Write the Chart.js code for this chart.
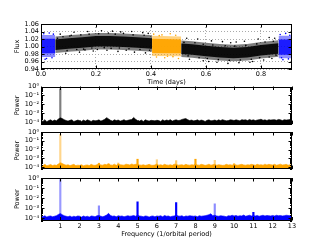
<!DOCTYPE html>
<html>
<head>
<meta charset="utf-8">
<script src="https://cdn.jsdelivr.net/npm/chart.js@4"></script>
<style>
body { margin: 0; background: #fff; }
#wrap { position: relative; width: 325px; height: 245px; }
canvas { position: absolute; left: 0; }
</style>
</head>
<body>
<div id="wrap">
<canvas id="lightCurve" width="325" height="88" style="top:0px"></canvas>
<canvas id="powerK" width="325" height="50" style="top:80px"></canvas>
<canvas id="powerO" width="325" height="50" style="top:125px"></canvas>
<canvas id="powerB" width="325" height="75" style="top:170px"></canvas>
</div>
<script>
// ---- light curve (flux vs time) ----
const timeTicks = [0, 0.2, 0.4, 0.6, 0.8];
const fluxTicks = [0.94, 0.96, 0.98, 1.0, 1.02, 1.04, 1.06];

const timeK1 = [0.052, 0.1, 0.15, 0.2, 0.25, 0.3, 0.35, 0.404];
const innerUpK1 = [1.019, 1.022, 1.025, 1.028, 1.028, 1.027, 1.025, 1.022];
const innerLoK1 = [0.991, 0.994, 0.997, 1.000, 1.000, 0.999, 0.997, 0.994];
const outerUpK1 = [1.027, 1.030, 1.033, 1.036, 1.036, 1.035, 1.033, 1.030];
const outerLoK1 = [0.983, 0.986, 0.989, 0.992, 0.992, 0.991, 0.989, 0.986];

const timeK2 = [0.51, 0.55, 0.6, 0.65, 0.7, 0.75, 0.8, 0.864];
const innerUpK2 = [1.008, 1.006, 1.002, 0.999, 0.997, 0.999, 1.004, 1.009];
const innerLoK2 = [0.980, 0.978, 0.974, 0.971, 0.969, 0.971, 0.976, 0.981];
const outerUpK2 = [1.016, 1.014, 1.010, 1.007, 1.005, 1.007, 1.012, 1.017];
const outerLoK2 = [0.972, 0.970, 0.966, 0.963, 0.961, 0.963, 0.968, 0.973];

const timeO = [0.404, 0.51];
const innerUpO = [1.021, 1.019];
const innerLoO = [0.983, 0.982];
const outerUpO = [1.029, 1.027];
const outerLoO = [0.975, 0.974];

const timeBA = [0, 0.052];
const innerUpBA = [1.021, 1.021];
const innerLoBA = [0.982, 0.982];
const outerUpBA = [1.031, 1.031];
const outerLoBA = [0.972, 0.972];

const timeBB = [0.864, 0.913];
const innerUpBB = [1.019, 1.019];
const innerLoBB = [0.978, 0.978];
const outerUpBB = [1.029, 1.029];
const outerLoBB = [0.969, 0.969];

// stray points around the dense band
const strayTimeK = [0.07, 0.09, 0.11, 0.12, 0.14, 0.16, 0.17, 0.19, 0.205, 0.22, 0.24, 0.26, 0.28, 0.29, 0.31, 0.33, 0.34, 0.37, 0.38, 0.39,
  0.53, 0.54, 0.57, 0.59, 0.61, 0.62, 0.64, 0.66, 0.68, 0.69, 0.71, 0.72, 0.74, 0.76, 0.77, 0.79, 0.81, 0.83, 0.84, 0.85,
  0.06, 0.08, 0.095, 0.105, 0.13, 0.145, 0.155, 0.175, 0.185, 0.21, 0.23, 0.245, 0.255, 0.27, 0.285, 0.3, 0.32, 0.335, 0.36, 0.375, 0.395,
  0.52, 0.535, 0.56, 0.575, 0.59, 0.605, 0.625, 0.645, 0.67, 0.685, 0.705, 0.725, 0.745, 0.765, 0.785, 0.795, 0.815, 0.83, 0.845, 0.855];
const strayFluxK = [1.033, 0.982, 1.030, 1.038, 0.985, 0.991, 1.040, 0.988, 0.992, 1.042, 0.990, 1.041, 0.987, 1.039, 0.990, 1.040, 0.985, 1.037, 0.983, 1.035,
  1.022, 0.966, 1.020, 0.962, 0.960, 1.015, 0.958, 1.013, 0.955, 1.010, 1.012, 0.957, 1.014, 0.958, 0.960, 1.020, 0.964, 1.024, 0.968, 1.022,
  1.022, 1.026, 0.989, 1.028, 0.992, 1.031, 0.993, 1.033, 0.996, 1.034, 0.997, 1.036, 0.995, 1.033, 0.996, 1.035, 0.994, 1.031, 0.992, 1.030, 0.990,
  1.011, 0.975, 1.010, 0.970, 1.006, 0.968, 1.004, 0.965, 1.002, 0.963, 1.001, 0.964, 1.003, 0.966, 1.007, 0.970, 1.012, 0.972, 1.014, 0.977];
const strayTimeO = [0.41, 0.42, 0.43, 0.44, 0.45, 0.46, 0.47, 0.48, 0.49, 0.50];
const strayFluxO = [1.033, 0.972, 1.029, 1.031, 0.970, 0.974, 1.034, 0.973, 1.030, 0.968];
const strayTimeB = [0.01, 0.015, 0.02, 0.03, 0.04, 0.045, 0.87, 0.875, 0.88, 0.89, 0.90, 0.905];
const strayFluxB = [1.034, 0.966, 0.968, 1.036, 0.970, 1.033, 1.032, 0.970, 0.965, 1.035, 0.967, 1.030];

// ---- periodograms ----
const freqTicks = [0, 1, 2, 3, 4, 5, 6, 7, 8, 9, 10, 11, 12, 13];
const freqLabels = ['', '1', '2', '3', '4', '5', '6', '7', '8', '9', '10', '11', '12', '13'];
const powerTicks = [1e-4, 1e-3, 1e-2, 1e-1, 1];
const powerLabels = ['10\u207B\u2074', '10\u207B\u00B3', '10\u207B\u00B2', '10\u207B\u00B9', '10\u2070'];

const freqGrid = [0, 0.1, 0.2, 0.3, 0.4, 0.5, 0.6, 0.7, 0.8, 0.9,
  1, 1.1, 1.2, 1.3, 1.4, 1.5, 1.6, 1.7, 1.8, 1.9,
  2, 2.1, 2.2, 2.3, 2.4, 2.5, 2.6, 2.7, 2.8, 2.9,
  3, 3.1, 3.2, 3.3, 3.4, 3.5, 3.6, 3.7, 3.8, 3.9,
  4, 4.1, 4.2, 4.3, 4.4, 4.5, 4.6, 4.7, 4.8, 4.9,
  5, 5.1, 5.2, 5.3, 5.4, 5.5, 5.6, 5.7, 5.8, 5.9,
  6, 6.1, 6.2, 6.3, 6.4, 6.5, 6.6, 6.7, 6.8, 6.9,
  7, 7.1, 7.2, 7.3, 7.4, 7.5, 7.6, 7.7, 7.8, 7.9,
  8, 8.1, 8.2, 8.3, 8.4, 8.5, 8.6, 8.7, 8.8, 8.9,
  9, 9.1, 9.2, 9.3, 9.4, 9.5, 9.6, 9.7, 9.8, 9.9,
  10, 10.1, 10.2, 10.3, 10.4, 10.5, 10.6, 10.7, 10.8, 10.9,
  11, 11.1, 11.2, 11.3, 11.4, 11.5, 11.6, 11.7, 11.8, 11.9,
  12, 12.1, 12.2, 12.3, 12.4, 12.5, 12.6, 12.7, 12.8, 12.9,
  13];

const NOISE_UNIT = 1e-4; // noise floors below are in units of 1e-4
const noiseK = [1.6, 1.2, 1.9, 1.1, 1.5, 1.8, 1.3, 1.7, 1.4, 2.2,
  3.0, 2.5, 1.9, 1.5, 1.3, 1.6, 1.8, 1.2, 1.4, 1.7,
  1.5, 1.2, 1.7, 1.3, 1.8, 1.5, 1.2, 1.6, 1.4, 1.5,
  1.8, 1.3, 1.6, 2.1, 3.2, 2.3, 1.6, 1.3, 1.8, 1.5,
  1.7, 1.3, 1.5, 1.9, 1.4, 1.6, 1.8, 2.0, 3.4, 2.1,
  1.5, 1.3, 1.7, 1.2, 1.8, 1.5, 1.3, 1.6, 1.5, 1.4,
  1.6, 1.5, 1.2, 1.8, 1.4, 1.7, 1.5, 1.9, 1.3, 1.6,
  1.8, 1.5, 1.6, 2.0, 2.3, 2.5, 1.9, 1.5, 1.7, 1.4,
  1.5, 1.8, 1.4, 1.7, 1.5, 1.2, 1.6, 1.8, 1.4, 1.5,
  1.7, 1.4, 1.8, 1.5, 1.9, 1.6, 1.4, 1.5, 1.8, 1.7,
  1.5, 1.8, 1.6, 1.4, 1.9, 1.7, 1.8, 1.5, 2.0, 1.6,
  1.8, 1.5, 1.7, 1.9, 2.1, 1.6, 1.8, 1.5, 1.9, 1.7,
  1.8, 1.9, 1.6, 2.0, 1.8, 1.5, 1.9, 1.7, 1.8, 2.0,
  1.6];
const noiseO = [1.8, 1.5, 2.1, 1.4, 1.7, 2.0, 1.5, 1.8, 1.6, 2.3,
  3.2, 2.6, 2.0, 1.7, 1.9, 1.5, 1.8, 2.1, 1.5, 1.7,
  1.6, 1.9, 1.4, 1.7, 1.8, 1.5, 2.1, 1.7, 1.6, 1.9,
  2.3, 1.8, 1.7, 2.1, 1.9, 2.4, 1.8, 1.7, 2.2, 1.6,
  2.4, 1.9, 1.8, 1.7, 2.2, 2.0, 1.8, 2.3, 1.9, 2.1,
  2.2, 1.8, 1.7, 1.9, 1.6, 1.8, 2.1, 1.7, 1.6, 1.8,
  2.3, 1.7, 1.9, 1.6, 2.1, 1.8, 1.7, 1.9, 1.6, 2.2,
  2.1, 1.7, 1.8, 1.9, 1.6, 2.1, 1.8, 1.7, 1.9, 1.8,
  2.4, 1.8, 1.7, 2.1, 1.9, 1.6, 1.8, 2.2, 1.7, 1.9,
  2.1, 1.7, 1.9, 1.8, 1.6, 1.7, 2.1, 1.8, 1.9, 1.7,
  2.2, 1.8, 1.7, 1.9, 2.1, 1.8, 1.7, 1.9, 1.8, 2.1,
  1.9, 1.7, 2.1, 1.8, 1.9, 1.7, 2.2, 1.8, 2.1, 1.9,
  1.8, 2.1, 1.7, 1.9, 2.2, 1.8, 1.9, 2.1, 1.7, 1.9,
  1.8];
const noiseB = [1.7, 1.4, 1.8, 1.3, 1.6, 1.7, 1.4, 1.6, 1.8, 2.4,
  2.9, 2.3, 1.8, 1.6, 1.4, 1.7, 1.3, 1.6, 1.4, 1.7,
  1.6, 1.3, 1.7, 1.4, 1.6, 1.3, 1.7, 1.6, 1.4, 1.8,
  1.9, 1.6, 1.4, 1.7, 2.1, 3.1, 1.9, 1.6, 1.7, 1.4,
  1.8, 1.6, 1.7, 1.4, 1.6, 1.8, 1.6, 1.7, 1.9, 1.6,
  2.0, 1.7, 1.6, 1.4, 1.7, 1.6, 1.3, 1.6, 1.7, 1.4,
  1.7, 1.6, 1.8, 1.4, 1.9, 1.6, 1.7, 1.4, 1.6, 1.7,
  2.1, 1.7, 1.6, 1.8, 1.4, 1.7, 1.6, 1.8, 1.7, 1.6,
  1.7, 1.4, 1.8, 1.6, 1.7, 1.8, 2.0, 2.3, 2.8, 1.8,
  2.0, 1.7, 1.6, 1.8, 1.7, 1.6, 1.4, 1.8, 1.7, 2.0,
  1.7, 1.9, 1.6, 1.8, 1.7, 2.1, 1.6, 1.8, 2.0, 1.7,
  1.8, 1.7, 1.9, 1.6, 1.8, 2.0, 1.7, 1.9, 1.8, 1.7,
  1.9, 1.7, 2.0, 1.8, 1.9, 1.7, 1.8, 2.0, 1.9, 1.8,
  1.7];

const peakFreqK = [1.0];
const peakPowerK = [0.55];
const peakFreqO = [1.0, 3.0, 3.5, 4.0, 5.0, 6.0, 7.0, 8.0, 9.0, 10.0];
const peakPowerO = [0.52, 2.8e-4, 2.3e-4, 3.0e-4, 8e-4, 7e-4, 5.5e-4, 8e-4, 6e-4, 2.5e-4];
const peakFreqB = [1.0, 3.0, 5.0, 7.0, 9.0, 11.0];
const peakPowerB = [0.7, 1.7e-3, 4.2e-3, 3.6e-3, 2.7e-3, 3.8e-4];

// styling
const BLACK = [0, 0, 0], ORANGE = [255, 165, 0], BLUE = [0, 0, 255];
const peakAlphaK = [0.5];
const peakAlphaO = [0.45, 0.9, 0.9, 0.5, 1, 0.5, 0.6, 1, 0.5, 0.7];
const peakAlphaB = [0.4, 0.45, 1, 1, 0.45, 1];
const rgba = (c, a) => 'rgba(' + c[0] + ',' + c[1] + ',' + c[2] + ',' + a + ')';

Chart.defaults.font.family = "'DejaVu Sans', sans-serif";
Chart.defaults.font.size = 6.5;
Chart.defaults.color = '#000';

// axes frame plus inward tick marks, like the old matplotlib style
const frameTicks = {
    id: 'frameTicks',
    afterDatasetsDraw(chart) {
        const { ctx, chartArea: a, scales: { x, y } } = chart;
        ctx.save();
        ctx.strokeStyle = '#000';
        ctx.lineWidth = 1;
        ctx.beginPath();
        x.ticks.forEach(t => {
            const px = Math.round(x.getPixelForValue(t.value)) + 0.5;
            ctx.moveTo(px, a.bottom); ctx.lineTo(px, a.bottom - 3.5);
            ctx.moveTo(px, a.top); ctx.lineTo(px, a.top + 3.5);
        });
        y.ticks.forEach(t => {
            const py = Math.round(y.getPixelForValue(t.value)) + 0.5;
            ctx.moveTo(a.left, py); ctx.lineTo(a.left + 3.5, py);
            ctx.moveTo(a.right, py); ctx.lineTo(a.right - 3.5, py);
        });
        if (y.type === 'logarithmic') {
            for (let e = -5; e < 0; e++) {
                for (let m = 2; m < 10; m++) {
                    const v = m * Math.pow(10, e);
                    if (v <= y.min || v >= y.max) continue;
                    const py = Math.round(y.getPixelForValue(v)) + 0.5;
                    ctx.moveTo(a.left, py); ctx.lineTo(a.left + 2, py);
                    ctx.moveTo(a.right, py); ctx.lineTo(a.right - 2, py);
                }
            }
        }
        ctx.stroke();
        ctx.strokeRect(Math.round(a.left) + 0.5, Math.round(a.top) + 0.5,
            Math.round(a.width) - 1, Math.round(a.height) - 1);
        ctx.restore();
    }
};

function band(t, up, lo, color) {
    return [
        { data: t.map((v, i) => ({ x: v, y: up[i] })), fill: '+1', backgroundColor: color, borderColor: 'rgba(0,0,0,0)', borderWidth: 0 },
        { data: t.map((v, i) => ({ x: v, y: lo[i] })), fill: false, borderColor: 'rgba(0,0,0,0)', borderWidth: 0 }
    ];
}

function stray(t, f, color) {
    return {
        data: t.map((v, i) => ({ x: v, y: f[i] })),
        showLine: false, pointRadius: 0.8, pointBorderWidth: 0,
        pointBackgroundColor: color, fill: false
    };
}

new Chart(document.getElementById('lightCurve'), {
    type: 'line',
    data: {
        datasets: [
            stray(strayTimeK, strayFluxK, '#000'),
            stray(strayTimeO, strayFluxO, rgba(ORANGE, 1)),
            stray(strayTimeB, strayFluxB, rgba(BLUE, 1)),
            ...band(timeK1, innerUpK1, innerLoK1, rgba(BLACK, 0.9)),
            ...band(timeK2, innerUpK2, innerLoK2, rgba(BLACK, 0.9)),
            ...band(timeO, innerUpO, innerLoO, rgba(ORANGE, 0.95)),
            ...band(timeBA, innerUpBA, innerLoBA, rgba(BLUE, 0.8)),
            ...band(timeBB, innerUpBB, innerLoBB, rgba(BLUE, 0.8)),
            ...band(timeK1, outerUpK1, outerLoK1, rgba(BLACK, 0.5)),
            ...band(timeK2, outerUpK2, outerLoK2, rgba(BLACK, 0.5)),
            ...band(timeO, outerUpO, outerLoO, rgba(ORANGE, 0.5)),
            ...band(timeBA, outerUpBA, outerLoBA, rgba(BLUE, 0.45)),
            ...band(timeBB, outerUpBB, outerLoBB, rgba(BLUE, 0.45))
        ]
    },
    options: {
        responsive: false,
        animation: false,
        devicePixelRatio: 1,
        layout: { padding: { top: 24, right: 33, left: 0, bottom: 0 } },
        plugins: { legend: { display: false }, tooltip: { enabled: false } },
        elements: { point: { radius: 0 }, line: { tension: 0 } },
        scales: {
            x: {
                type: 'linear', min: 0, max: 0.913,
                afterBuildTicks: s => { s.ticks = timeTicks.map(v => ({ value: v })); },
                afterFit: s => { s.height = 19; },
                ticks: { padding: 1.5, maxRotation: 0, autoSkip: false, callback: v => v.toFixed(1) },
                grid: { color: '#aaa', drawTicks: false },
                border: { display: false, dash: [1, 2] },
                title: { display: true, text: 'Time (days)', padding: { top: 0, bottom: 2 } }
            },
            y: {
                type: 'linear', min: 0.94, max: 1.06,
                afterBuildTicks: s => { s.ticks = fluxTicks.map(v => ({ value: v })); },
                afterFit: s => { s.width = 41; },
                ticks: { padding: 2, autoSkip: false, callback: v => v.toFixed(2) },
                grid: { color: '#aaa', drawTicks: false },
                border: { display: false, dash: [1, 2] },
                title: { display: true, text: 'Flux', padding: { top: 13.5, bottom: 0 } }
            }
        }
    },
    plugins: [frameTicks]
});

function periodogram(id, padTop, xHeight, noise, peakF, peakP, peakAlpha, col, showX) {
    return new Chart(document.getElementById(id), {
        type: 'line',
        data: {
            datasets: [
                {
                    type: 'bar',
                    data: peakF.map((f, i) => ({ x: f, y: peakP[i] })),
                    backgroundColor: c => rgba(col, peakAlpha[c.dataIndex]),
                    barThickness: c => (c.dataIndex === 0 ? 2 : 1.5),
                    borderWidth: 0
                },
                {
                    data: freqGrid.map((f, i) => ({ x: f, y: noise[i] * NOISE_UNIT })),
                    fill: 'start',
                    backgroundColor: rgba(col, 1),
                    borderColor: rgba(col, 1),
                    borderWidth: 0.6,
                    pointRadius: 0
                }
            ]
        },
        options: {
            responsive: false,
            animation: false,
            devicePixelRatio: 1,
            layout: { padding: { top: padTop, right: 33, left: 0, bottom: 0 } },
            plugins: { legend: { display: false }, tooltip: { enabled: false } },
            elements: { line: { tension: 0 } },
            scales: {
                x: {
                    type: 'linear', min: 0, max: 13, offset: false,
                    afterBuildTicks: s => { s.ticks = freqTicks.map(v => ({ value: v })); },
                    afterFit: s => { s.height = xHeight; },
                    ticks: { display: showX, padding: 1.5, maxRotation: 0, autoSkip: false, callback: (v, i) => freqLabels[i] },
                    grid: { display: false, drawTicks: false },
                    border: { display: false },
                    title: { display: showX, text: 'Frequency (1/orbital period)', padding: { top: 0, bottom: 7 } }
                },
                y: {
                    type: 'logarithmic', min: 6e-5, max: 1,
                    afterBuildTicks: s => { s.ticks = powerTicks.map(v => ({ value: v })); },
                    afterFit: s => { s.width = 41; },
                    ticks: { padding: 2, autoSkip: false, callback: (v, i) => powerLabels[i] },
                    grid: { display: false, drawTicks: false },
                    border: { display: false },
                    title: { display: true, text: 'Power', padding: { top: 13.5, bottom: 0 } }
                }
            }
        },
        plugins: [frameTicks]
    });
}

periodogram('powerK', 6.5, 1.5, noiseK, peakFreqK, peakPowerK, peakAlphaK, BLACK, false);
periodogram('powerO', 7, 1, noiseO, peakFreqO, peakPowerO, peakAlphaO, ORANGE, false);
periodogram('powerB', 8, 24.5, noiseB, peakFreqB, peakPowerB, peakAlphaB, BLUE, true);
</script>
</body>
</html>
